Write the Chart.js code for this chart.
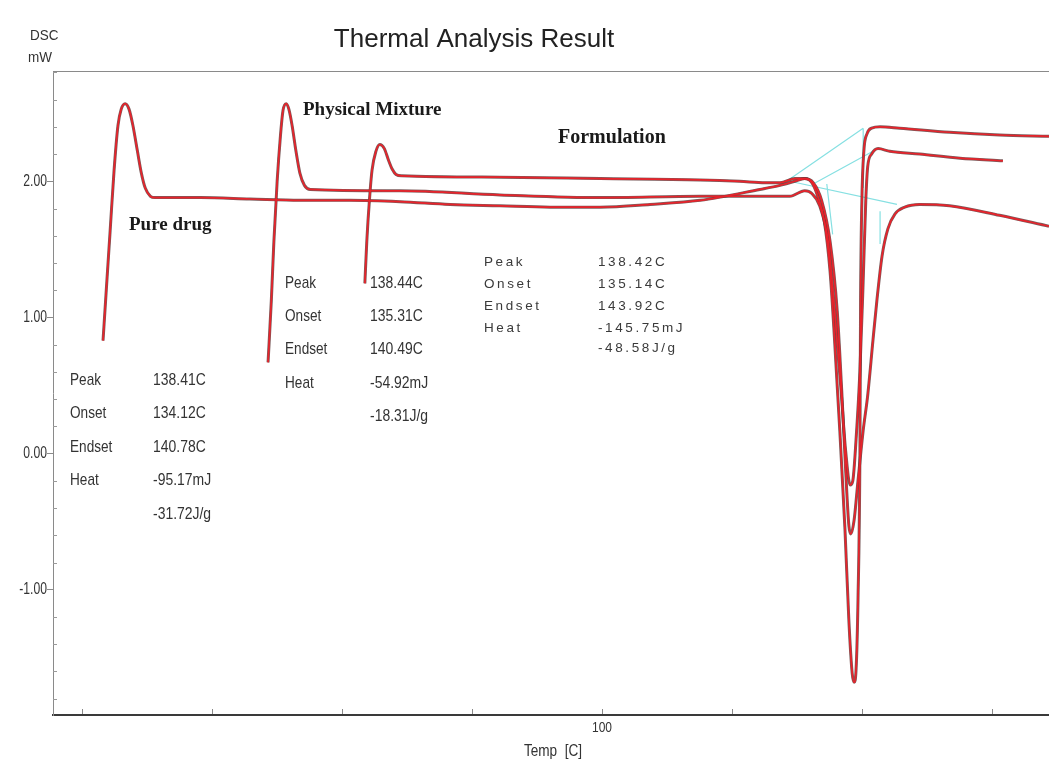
<!DOCTYPE html>
<html>
<head>
<meta charset="utf-8">
<script src="https://cdn.jsdelivr.net/npm/chart.js@4.4.1/dist/chart.umd.min.js"></script>
<style>
html,body{margin:0;padding:0;background:#fff;}
#wrap{width:1049px;height:769px;}
</style>
</head>
<body>
<div id="wrap"><canvas id="c" width="1049" height="769"></canvas></div>
<script>
// ---- data (Temp in C, DSC in mW) ----
const pureTemp = [23.2,23.7,24.3,24.9,25.5,26.0,26.6,27.2,27.8,28.5,29.1,29.7,30.5,31.2,38.2,45.8,53.5,61.2,68.9,76.6,84.3,92.0,99.7,107.4,115.1,124.3,127.4,129.7,131.2,132.3,133.2,134.2,135.1,135.8,136.6,137.4,138.0,138.5,138.8,139.1,139.4,139.7,139.8,140.0,140.3,140.8,141.5,142.8,145.8,153.5,161.2,168.8];
const pureDSC  = [0.83,1.20,1.64,2.08,2.41,2.53,2.57,2.53,2.41,2.22,2.06,1.95,1.89,1.88,1.88,1.87,1.86,1.86,1.85,1.83,1.82,1.81,1.81,1.83,1.86,1.94,1.97,2.00,2.02,1.99,1.89,1.71,1.34,0.83,0.17,-0.56,-1.23,-1.61,-1.68,-1.59,-1.08,0.02,1.12,1.86,2.22,2.35,2.39,2.40,2.39,2.36,2.34,2.33];

const mixTemp = [48.6,49.1,49.5,50.0,50.5,50.9,51.4,51.8,52.3,52.9,53.5,54.2,55.1,68.9,84.3,99.7,115.1,124.3,128.9,131.2,132.3,133.5,134.8,135.8,136.8,137.5,138.2,138.6,139.1,139.7,140.2,140.6,140.9,141.5,142.5,144.3,148.9,155.1,161.7];
const mixDSC  = [0.67,1.12,1.56,2.00,2.33,2.52,2.57,2.53,2.41,2.22,2.06,1.97,1.94,1.93,1.90,1.88,1.89,1.89,1.89,1.93,1.91,1.82,1.56,1.05,0.46,0.02,-0.23,-0.20,0.10,0.61,1.27,1.86,2.11,2.20,2.24,2.22,2.20,2.17,2.15];

const formTemp = [63.5,63.8,64.2,64.6,65.2,65.8,66.5,67.1,67.7,68.3,69.2,84.3,99.7,115.1,121.2,125.1,127.4,129.7,131.2,132.5,133.8,135.1,136.2,136.9,137.5,138.0,138.3,138.8,139.4,140.2,140.9,141.7,142.3,143.1,144.0,145.1,146.6,148.9,153.5,161.2,168.8];
const formDSC  = [1.25,1.56,1.86,2.08,2.22,2.27,2.24,2.16,2.09,2.05,2.04,2.03,2.02,2.01,2.00,1.99,1.99,2.02,2.02,1.99,1.86,1.56,1.05,0.46,-0.12,-0.53,-0.59,-0.49,-0.20,0.17,0.43,0.83,1.12,1.45,1.65,1.76,1.81,1.83,1.82,1.75,1.67];

// tangent / baseline construction lines (null separates segments)
const tangentTemp = [127.8,140.2,null,140.2,140.2,null,128.9,145.4,null,132.5,141.7,null,134.6,135.5,null,142.8,142.8];
const tangentDSC  = [1.98,2.39,null,2.39,1.95,null,2.00,1.83,null,1.98,2.22,null,1.98,1.61,null,1.78,1.54];

const yTickValues = [-1, 0, 1, 2];
const xTickValues = [20, 40, 60, 80, 100, 120, 140, 160];
const xLabelled = [100];

const pureTable = [["Peak","138.41C"],["Onset","134.12C"],["Endset","140.78C"],["Heat","-95.17mJ"],["","-31.72J/g"]];
const mixTable  = [["Peak","138.44C"],["Onset","135.31C"],["Endset","140.49C"],["Heat","-54.92mJ"],["","-18.31J/g"]];
const formTable = [["Peak","138.42C"],["Onset","135.14C"],["Endset","143.92C"],["Heat","-145.75mJ"],["","-48.58J/g"]];

function pts(xs, ys){ return xs.map((x,i)=>({x:x, y:(x===null||ys[i]===null)?null:ys[i]})); }

const SANS = "'Liberation Sans',Arial,sans-serif";
const SERIF = "'Liberation Serif','Times New Roman',serif";

const RED = '#e8232b';
const DARK = 'rgba(90,50,50,0.8)';

function curve(label, xs, ys, color, width, order){
  return {label, data: pts(xs, ys), borderColor: color, borderWidth: width, showLine: true, order: order,
          pointRadius: 0, fill: false, cubicInterpolationMode: 'monotone', spanGaps: false};
}

function narrow(ctx, text, x, y, sx){
  ctx.save(); ctx.translate(x, y); ctx.scale(sx, 1); ctx.fillText(text, 0, 0); ctx.restore();
}

const decor = {
  id: 'decor',
  afterDraw(chart){
    const ctx = chart.ctx, a = chart.chartArea;
    const xs = chart.scales.x, ys = chart.scales.y;
    ctx.save();
    // top frame line
    ctx.strokeStyle = '#8a8a8a'; ctx.lineWidth = 1;
    ctx.beginPath(); ctx.moveTo(a.left, a.top + 0.5); ctx.lineTo(a.right, a.top + 0.5); ctx.stroke();
    // y minor ticks (inward)
    ctx.strokeStyle = '#9a9a9a';
    for (let v = -18; v <= 28; v += 2){
      if (v % 10 === 0) continue;
      const py = Math.round(ys.getPixelForValue(v/10)) + 0.5;
      ctx.beginPath(); ctx.moveTo(a.left, py); ctx.lineTo(a.left + 4, py); ctx.stroke();
    }
    // x ticks (inward)
    ctx.strokeStyle = '#8a8a8a';
    xTickValues.forEach(v => {
      const px = Math.round(xs.getPixelForValue(v)) + 0.5;
      ctx.beginPath(); ctx.moveTo(px, a.bottom - 1); ctx.lineTo(px, a.bottom - 6); ctx.stroke();
    });
    // y tick labels (narrow)
    ctx.fillStyle = '#333';
    ctx.textBaseline = 'middle';
    ctx.textAlign = 'right';
    ctx.font = '16px ' + SANS;
    yTickValues.forEach(v => { narrow(ctx, v.toFixed(2), 47, ys.getPixelForValue(v), 0.76); });
    ctx.textAlign = 'center';
    ctx.font = '15px ' + SANS;
    xLabelled.forEach(v => { narrow(ctx, String(v), xs.getPixelForValue(v), 728, 0.8); });
    ctx.font = '17px ' + SANS;
    narrow(ctx, 'Temp  [C]', 553, 751, 0.8);

    // title
    ctx.fillStyle = '#222';
    ctx.font = '26px ' + SANS;
    narrow(ctx, 'Thermal Analysis Result', 474, 40, 1.0);
    ctx.fillStyle = '#333';
    ctx.textAlign = 'left';
    ctx.font = '15px ' + SANS;
    narrow(ctx, 'DSC', 30, 36, 0.9);
    narrow(ctx, 'mW', 28, 58, 0.9);

    // series labels
    ctx.fillStyle = '#1a1a1a';
    ctx.font = 'bold 19px ' + SERIF;
    ctx.fillText('Pure drug', 129, 225);
    ctx.fillText('Physical Mixture', 303, 110);
    ctx.font = 'bold 20px ' + SERIF;
    ctx.fillText('Formulation', 558, 138);

    // result tables
    ctx.fillStyle = '#333';
    ctx.font = '17px ' + SANS;
    pureTable.forEach((r,i) => { const y = 380 + i*33.5; narrow(ctx, r[0], 70, y, 0.8); narrow(ctx, r[1], 153, y, 0.82); });
    mixTable.forEach((r,i) => { const y = 283 + i*33.3; narrow(ctx, r[0], 285, y, 0.8); narrow(ctx, r[1], 370, y, 0.82); });
    ctx.fillStyle = '#3a3a3a';
    ctx.font = '13.5px ' + SANS;
    try { ctx.letterSpacing = '2.6px'; } catch(e) {}
    formTable.forEach((r,i) => { const y = 262 + i*22.2 + (i===4 ? -3 : 0); ctx.fillText(r[0], 484, y); ctx.fillText(r[1], 598, y); });
    try { ctx.letterSpacing = '0px'; } catch(e) {}
    ctx.restore();
  }
};

new Chart(document.getElementById('c'), {
  type: 'scatter',
  data: {
    datasets: [
      curve('Pure drug', pureTemp, pureDSC, RED, 1.7, 0),
      curve('Physical Mixture', mixTemp, mixDSC, RED, 1.7, 0),
      curve('Formulation', formTemp, formDSC, RED, 1.7, 0),
      curve('Pure drug (edge)', pureTemp, pureDSC, DARK, 3.0, 1),
      curve('Physical Mixture (edge)', mixTemp, mixDSC, DARK, 3.0, 1),
      curve('Formulation (edge)', formTemp, formDSC, DARK, 3.0, 1),
      {label:'tangents', data: pts(tangentTemp, tangentDSC), borderColor:'#86e0e2', borderWidth:1.2, showLine:true, pointRadius:0, spanGaps:false, fill:false, order: 2}
    ]
  },
  options: {
    responsive: false,
    animation: false,
    layout: {padding: {top: 71, left: 0, right: 0, bottom: 0}},
    plugins: {legend: {display: false}, tooltip: {enabled: false}, title: {display: false}},
    scales: {
      x: {
        type: 'linear', min: 15.5, max: 168.8,
        afterFit(s){ s.height = 54; },
        afterBuildTicks(s){ s.ticks = xTickValues.map(v => ({value: v})); },
        grid: {drawOnChartArea: false, drawTicks: false},
        border: {display: true, color: '#3a3a3a', width: 2},
        ticks: {display: false}
      },
      y: {
        type: 'linear', min: -1.92, max: 2.81,
        afterFit(s){ s.width = 53; },
        afterBuildTicks(s){ s.ticks = yTickValues.map(v => ({value: v})); },
        grid: {drawOnChartArea: false, drawTicks: true, tickLength: 6, color: '#8a8a8a'},
        border: {display: true, color: '#8a8a8a', width: 1},
        ticks: {display: false}
      }
    }
  },
  plugins: [decor]
});
</script>
</body>
</html>
